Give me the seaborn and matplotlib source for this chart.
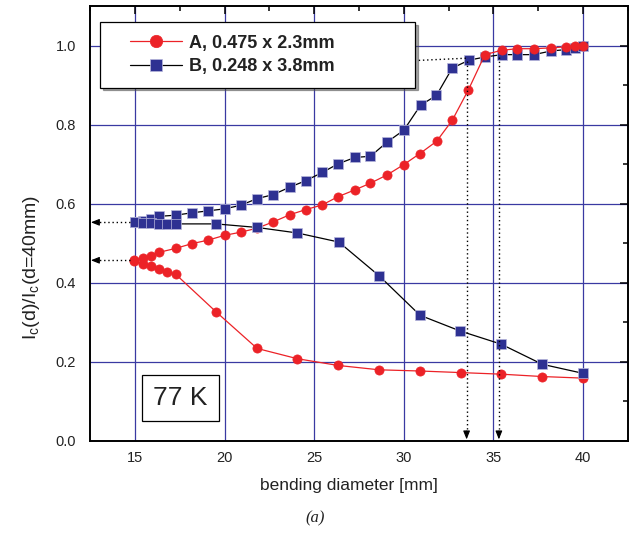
import numpy as np
import pandas as pd
import matplotlib
matplotlib.use("Agg")
import matplotlib.pyplot as plt
from matplotlib.ticker import MultipleLocator
from matplotlib.legend_handler import HandlerLine2D
import seaborn as sns

# ---------------- data ----------------
label_A = "A, 0.475 x 2.3mm"
label_B = "B, 0.248 x 3.8mm"

# sample A: bent branch (decreasing) and unbent/recovered branch (increasing)
A_down_d = [14.96, 15.43, 15.88, 16.34, 16.8, 17.27, 19.52, 21.82, 24.07, 26.34,
            28.63, 30.9, 33.17, 35.43, 37.72, 40.0]
A_down_r = [0.456, 0.448, 0.443, 0.435, 0.427, 0.422, 0.327, 0.234, 0.208, 0.191,
            0.180, 0.177, 0.173, 0.169, 0.163, 0.159]
A_up_d = [14.96, 15.43, 15.88, 16.34, 17.27, 18.18, 19.09, 20.0, 20.9, 21.8,
          22.72, 23.63, 24.52, 25.45, 26.34, 27.27, 28.14, 29.07, 30.0, 30.9,
          31.83, 32.7, 33.6, 34.52, 35.45, 36.32, 37.25, 38.18, 39.07, 39.54, 40.0]
A_up_r = [0.457, 0.462, 0.469, 0.477, 0.487, 0.499, 0.508, 0.520, 0.528, 0.538,
          0.554, 0.572, 0.585, 0.597, 0.618, 0.635, 0.652, 0.673, 0.699, 0.727,
          0.758, 0.811, 0.888, 0.977, 0.988, 0.992, 0.992, 0.994, 0.997, 0.998, 1.0]

# sample B
B_down_d = [15.0, 15.43, 15.88, 16.34, 16.8, 17.27, 19.52, 21.82, 24.07, 26.38,
            28.64, 30.9, 33.15, 35.42, 37.72, 40.0]
B_down_r = [0.553, 0.551, 0.551, 0.550, 0.549, 0.549, 0.549, 0.540, 0.526, 0.503,
            0.417, 0.318, 0.278, 0.245, 0.194, 0.171]
B_up_d = [15.0, 15.43, 15.88, 16.34, 17.27, 18.18, 19.09, 20.0, 20.9, 21.82,
          22.72, 23.64, 24.52, 25.45, 26.34, 27.27, 28.14, 29.07, 30.0, 30.93,
          31.82, 32.7, 33.63, 34.52, 35.45, 36.32, 37.25, 38.18, 39.07, 39.54, 40.0]
B_up_r = [0.553, 0.556, 0.562, 0.568, 0.571, 0.577, 0.582, 0.587, 0.596, 0.613,
          0.623, 0.642, 0.658, 0.679, 0.701, 0.717, 0.720, 0.756, 0.786, 0.849,
          0.874, 0.943, 0.963, 0.971, 0.977, 0.977, 0.977, 0.986, 0.990, 0.994, 1.0]

x_ticks = [15, 20, 25, 30, 35, 40]
y_ticks = [0.0, 0.2, 0.4, 0.6, 0.8, 1.0]
y_ticklabels = ["0.0", "0.2", "0.4", "0.6", "0.8", "1.0"]

# level marks (arrows)
start_levels = [0.553, 0.457]
recover_d = [33.5, 35.3]

# ---------------- style ----------------
sns.set_style("white")
plt.rcParams["font.family"] = ["Liberation Sans", "DejaVu Sans"]
plt.rcParams["mathtext.default"] = "regular"

RED = "#ec2227"
BLUE = "#2e3192"
GRID = "#3a3aa2"

fig = plt.figure(figsize=(6.3, 5.33), dpi=100)
ax = fig.add_axes([90 / 630, 1 - 441 / 533, (628 - 90) / 630, (441 - 6) / 533])

def branch(d, r, line_c, face_c, marker, ms, edge_c, z=2):
    df = pd.DataFrame({"d": d, "r": r})
    sns.lineplot(data=df, x="d", y="r", sort=False, estimator=None, ax=ax,
                 color=line_c, lw=0.9, marker=marker, markersize=ms,
                 markerfacecolor=face_c, markeredgecolor=edge_c, markeredgewidth=0.5,
                 legend=False, zorder=z)
    return ax.lines[-1]

branch(B_up_d, B_up_r, "black", BLUE, "s", 6.6, "#b8b8dc", z=3)
hA = branch(A_down_d, A_down_r, RED, RED, "o", 6.6, RED, z=4)
branch(A_up_d, A_up_r, RED, RED, "o", 6.6, RED, z=4)
hB = branch(B_down_d, B_down_r, "black", BLUE, "s", 6.6, "#b8b8dc", z=5)

# axes / grid
ax.set_xlim(12.5, 42.5)
ax.set_ylim(0, 1.1)
ax.set_xticks(x_ticks)
ax.set_yticks(y_ticks)
ax.set_yticklabels(y_ticklabels)
ax.xaxis.set_minor_locator(MultipleLocator(2.5))
ax.yaxis.set_minor_locator(MultipleLocator(0.1))
ax.grid(True, which="major", color=GRID, lw=0.9, zorder=0)
ax.set_axisbelow(True)
for s in ax.spines.values():
    s.set_visible(True)
    s.set_color("black")
    s.set_linewidth(1.4)
ax.tick_params(which="both", direction="in", top=True, right=True, colors="black",
               labelsize=10.5, width=1.1)
ax.tick_params(which="major", length=6)
ax.tick_params(axis="y", which="major", pad=10)
ax.tick_params(axis="x", which="major", pad=7)
ax.tick_params(which="minor", length=3.5)
for t in ax.get_xticklabels() + ax.get_yticklabels():
    t.set_color("#222222")

ax.set_xlabel("bending diameter [mm]", fontsize=12.5, color="#222222")
ax.xaxis.set_label_coords((349 - 90) / 538, (441 - 478) / 435)
ax.set_ylabel("I$_c$(d)/I$_c$(d=40mm)", fontsize=14, color="#222222")
ax.yaxis.set_label_coords((42 - 90) / 538, (441 - 267) / 435)

# dotted guide lines with arrowheads
for lvl in start_levels:
    ax.plot([14.75, 12.75], [lvl, lvl], ls=(0, (1, 2)), color="black", lw=1.0, zorder=6)
    ax.annotate("", xy=(12.55, lvl), xytext=(12.9, lvl),
                arrowprops=dict(arrowstyle="-|>,head_length=0.5,head_width=0.2",
                                color="black", lw=0.8, shrinkA=0, shrinkB=0), zorder=6)
for xd, ytop in zip(recover_d, [0.962, 0.972]):
    ax.plot([xd, xd], [ytop, 0.03], ls=(0, (1, 2)), color="black", lw=1.0, zorder=6)
    ax.annotate("", xy=(xd, 0.004), xytext=(xd, 0.025),
                arrowprops=dict(arrowstyle="-|>,head_length=0.5,head_width=0.2",
                                color="black", lw=0.8, shrinkA=0, shrinkB=0), zorder=6)
ax.plot([30.6, 33.5], [0.962, 0.968], ls=(0, (1, 2)), color="black", lw=1.0, zorder=6)

# legend
leg = ax.legend([hA, hB], [label_A, label_B], loc="upper left",
                bbox_to_anchor=(10 / 538, 0.5, 315 / 538, (441 - 22) / 435 - 0.5),
                mode="expand", borderaxespad=0, frameon=True, fancybox=False,
                shadow=True, framealpha=1, edgecolor="black", handlelength=3.85,
                handletextpad=0.4, labelspacing=0.35, borderpad=0.7, markerscale=1.35,
                handler_map={hA: HandlerLine2D(xpad=0.98), hB: HandlerLine2D(xpad=0.98)},
                prop={"weight": "bold", "size": 13})
leg.get_frame().set_linewidth(0.9)
for t in leg.get_texts():
    t.set_color("#222222")
leg.set_zorder(10)

# temperature box
ax.text((180.5 - 90) / 538, (441 - 398) / 435, "77 K", transform=ax.transAxes,
        ha="center", va="center", fontsize=19, color="#222222",
        bbox=dict(boxstyle="square,pad=0.42", fc="white", ec="black", lw=0.9), zorder=7)

fig.text(315 / 630, 1 - 518 / 533, "(a)", ha="center", va="center", fontsize=12,
         family="Liberation Serif", style="italic", color="#222222")

fig.savefig("out.png", dpi=100)
